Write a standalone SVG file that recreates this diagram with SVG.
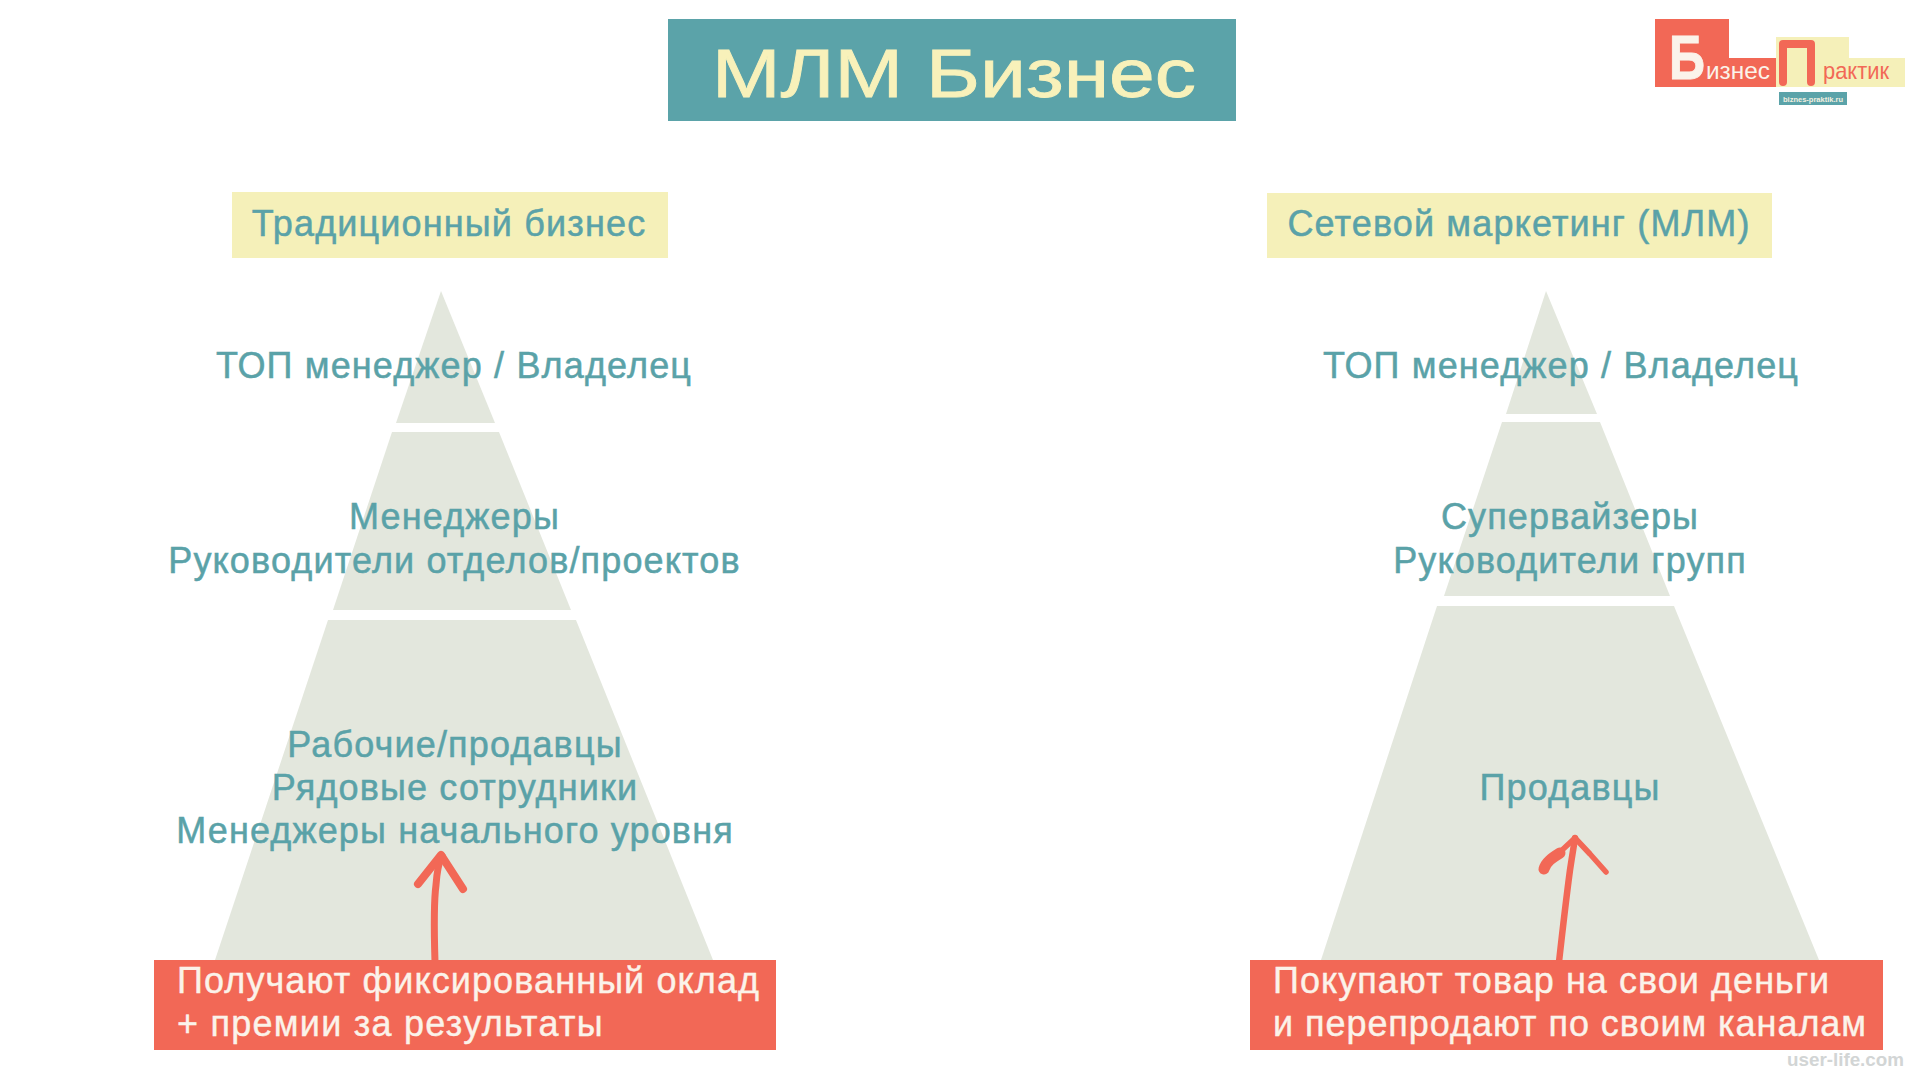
<svg xmlns="http://www.w3.org/2000/svg" width="1920" height="1080" viewBox="0 0 1920 1080">
<style>
text{font-family:"Liberation Sans",Arial,sans-serif}
.t{fill:#5aa2a8;stroke:#5aa2a8;stroke-width:.5px;font-size:36px;letter-spacing:1.15px;text-anchor:middle}
.w{fill:#fbf3ea;stroke:#fbf3ea;stroke-width:.4px;font-size:36px;letter-spacing:1.05px}
.p{fill:#e3e7dd}
.r{fill:#f26856}
.y{fill:#f5f0b9}
.a{fill:none;stroke:#f26856;stroke-linecap:round;stroke-linejoin:round}
</style>
<rect width="1920" height="1080" fill="#ffffff"/>
<g id="title"><rect x="668" y="19" width="568" height="102" fill="#5ba3a9"/><text x="712" y="97" font-size="68" fill="#f8f1ba" stroke="#f8f1ba" stroke-width=".8" textLength="484" lengthAdjust="spacingAndGlyphs">МЛМ Бизнес</text></g>
<g id="logo">
<rect x="1655" y="19" width="74" height="68" class="r"/><rect x="1729" y="58" width="47" height="29" class="r"/>
<rect x="1776" y="37" width="73" height="50" class="y"/><rect x="1849" y="58" width="56" height="29" class="y"/>
<text transform="translate(1669 79) scale(1 1.25)" font-size="50" font-weight="bold" fill="#fbf3ea" stroke="#fbf3ea" stroke-width=".8">Б</text>
<text x="1706" y="79" font-size="24" fill="#fbf3ea" textLength="64" lengthAdjust="spacingAndGlyphs">изнес</text>
<path d="M1783 82V44H1811V82" fill="none" stroke="#f26856" stroke-width="8" stroke-linejoin="round" stroke-linecap="round"/>
<text x="1823" y="79" font-size="24" fill="#f26856" textLength="66" lengthAdjust="spacingAndGlyphs">рактик</text>
<rect x="1779" y="92" width="68" height="13" fill="#5ba3a9"/>
<text x="1813" y="102" font-size="7.500" font-weight="bold" fill="#f5f0e0" text-anchor="middle">biznes-praktik.ru</text>
</g>
<g id="header-left"><rect x="232" y="192" width="436" height="66" class="y"/><text class="t" x="449" y="236">Традиционный бизнес</text></g>
<g id="header-right"><rect x="1267" y="193" width="505" height="65" class="y"/><text class="t" x="1519" y="236">Сетевой маркетинг (МЛМ)</text></g>
<g id="left-top"><polygon class="p" points="441,291 495,423 396,423"/><text class="t" x="454" y="378">ТОП менеджер / Владелец</text></g>
<g id="left-middle"><polygon class="p" points="392,432 499,432 571,610 333,610"/><text class="t" x="454.500" y="529">Менеджеры</text><text class="t" x="454.500" y="573">Руководители отделов/проектов</text></g>
<g id="left-bottom"><polygon class="p" points="328,620 576,620 713,960 215,960"/><text class="t" x="455" y="757">Рабочие/продавцы</text><text class="t" x="455" y="800">Рядовые сотрудники</text><text class="t" x="455" y="843">Менеджеры начального уровня</text></g>
<g id="right-top"><polygon class="p" points="1546,291 1597,414 1506,414"/><text class="t" x="1561" y="378">ТОП менеджер / Владелец</text></g>
<g id="right-middle"><polygon class="p" points="1502,422 1600,422 1670,596 1444,596"/><text class="t" x="1570" y="529">Супервайзеры</text><text class="t" x="1570" y="573">Руководители групп</text></g>
<g id="right-bottom"><polygon class="p" points="1437,606 1674,606 1819,960 1321,960"/><text class="t" x="1570" y="800">Продавцы</text></g>
<g id="connectors">
<path class="a" stroke-width="7" d="M435 962C434 930 434 900 436 885C437 870 440 860 442 856"/>
<path class="a" stroke-width="8" d="M418 884L441 855L463 889"/>
<path class="a" stroke-width="6.500" d="M1559 962C1562 935 1566 900 1570 870C1573 850 1574 845 1575 838"/>
<path class="a" stroke-width="11" d="M1544 869C1546 862 1552 858 1560 853"/>
<path class="a" stroke-width="5.500" d="M1560 852L1575 838L1590 854L1606 872"/>
</g>
<g id="note-left"><rect x="154" y="960" width="622" height="90" class="r"/><text class="w" x="177" y="993" style="letter-spacing:1.1px">Получают фиксированный оклад</text><text class="w" x="177" y="1036" style="letter-spacing:1.25px">+ премии за результаты</text></g>
<g id="note-right"><rect x="1250" y="960" width="633" height="90" class="r"/><text class="w" x="1273" y="993">Покупают товар на свои деньги</text><text class="w" x="1273" y="1036" style="letter-spacing:.95px">и перепродают по своим каналам</text></g>
<g id="watermark"><text x="1787" y="1066" font-size="19" font-weight="bold" fill="#d2d5d5" textLength="117" lengthAdjust="spacingAndGlyphs">user-life.com</text></g>
</svg>
